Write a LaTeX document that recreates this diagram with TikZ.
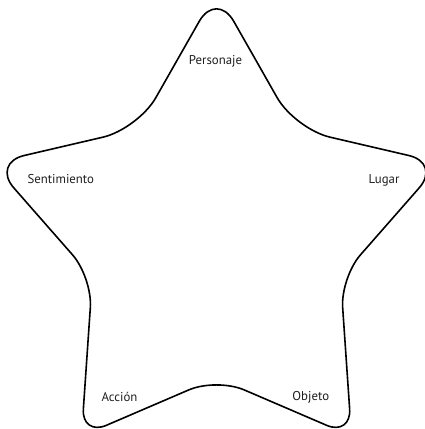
\documentclass[tikz,border=0pt]{standalone}
\usepackage{fontspec}
\setmainfont{PT Sans}
\usetikzlibrary{calc}
\begin{document}
\begin{tikzpicture}[x=1pt,y=-1pt,
  starline/.style={draw=black,line width=1.6pt,line join=round},
  lbl/.style={font=\fontsize{12.8}{15}\selectfont,text=black!88,inner sep=0pt,anchor=base}]
\useasboundingbox (0,0) rectangle (424,429);
\coordinate (T) at (216.5,-9);
\coordinate (IUR) at (295,129);
\coordinate (R) at (441,163);
\coordinate (ILR) at (340.6,277.5);
\coordinate (BR) at (351.5,436);
\coordinate (IB) at (216.5,378);
\coordinate (BL) at (81.5,436);
\coordinate (ILL) at (92.4,277.5);
\coordinate (L) at (-8,163);
\coordinate (IUL) at (138,129);
\coordinate (S) at ($(IUL)!0.5!(T)$);
\draw[starline] (S)
  [rounded corners=35pt] -- (T)
  [rounded corners=36pt] -- (IUR)
  [rounded corners=33pt] -- (R)
  [rounded corners=30pt] -- (ILR)
  [rounded corners=27pt] -- (BR)
  [rounded corners=30pt] -- (IB)
  [rounded corners=27pt] -- (BL)
  [rounded corners=30pt] -- (ILL)
  [rounded corners=33pt] -- (L)
  [rounded corners=36pt] -- (IUL)
  [sharp corners] -- cycle;
\node[lbl] (personaje) at (215.5,64.7) {Personaje};
\node[lbl] (sentimiento) at (60.8,183.3) {Sentimiento};
\node[lbl] (lugar) at (384,183) {Lugar};
\node[lbl] (accion) at (119.5,401) {Acción};
\node[lbl] (objeto) at (310.8,400.5) {Objeto};
\end{tikzpicture}
\end{document}
